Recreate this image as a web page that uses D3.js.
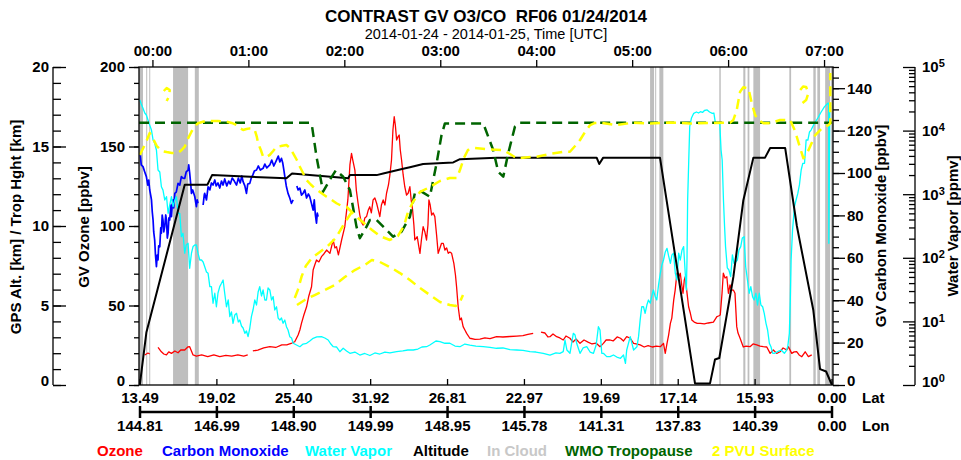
<!DOCTYPE html>
<html><head><meta charset="utf-8">
<script src="https://cdn.jsdelivr.net/npm/d3@7"></script>
<style>
body{margin:0;background:#fff}
svg{display:block;font-family:"Liberation Sans",Arial,Helvetica,sans-serif}
</style></head><body>
<svg id="c" width="961" height="460"></svg>
<script>
// ---- data (time = minutes after 2014-01-24 00:00 UTC) ----
const titleText = "CONTRAST GV O3/CO  RF06 01/24/2014";
const subtitleText = "2014-01-24 - 2014-01-25, Time [UTC]";
const latLabels = ["13.49","19.02","25.40","31.92","26.81","22.97","19.69","17.14","15.93","0.00"];
const lonLabels = ["144.81","146.99","148.90","149.99","148.95","145.78","141.31","137.83","140.39","0.00"];
const legendNames = ["Ozone","Carbon Monoxide","Water Vapor","Altitude","In Cloud","WMO Tropopause","2 PVU Surface"];
const legendColors = ["#ff0000","#0000ff","#00ffff","#000000","#c8c8c8","#006400","#ffff00"];
const ozoneTicks = [0,50,100,150,200];
const altTicks = [0,5,10,15,20];
const coTicks = [0,20,40,60,80,100,120,140];
const wvTicks = [1,10,100,1000,10000,100000];

const cloudBands = [[-8.4,-5.9],[-3.9,-3.4],[-2.0,-1.5],[12.9,22.3],[26.5,29.0],[311.2,313.7],[314.4,315.0],[317.0,319.5],[354.5,355.4],[369.5,370.8],[372.2,373.3],[375.8,380.0],[398.3,399.4],[413.3,414.8],[415.8,417.5],[420.7,423.8],[424.4,425.6]];

const ozone = [[-4.8,18.9],[-2.8,20.1],[-1.7,19.5],[0,null],
[3.5,23.7],[5.6,20.9],[7.1,19.5],[8.8,18.9],[10.2,20.8],[11.9,19.9],[14.0,21.4],[16.0,20.3],[17.7,22.0],[20.2,22.0],[22.1,23.9],[23.3,24.1],[25.4,18.9],[27.5,18.2],[30.8,18.9],[34.6,17.9],[38.4,18.9],[42.1,17.9],[45.9,18.6],[49.6,18.2],[53.4,18.9],[57.1,18.2],[59.6,18.9],[61,null],
[62.8,21.4],[65.9,22.0],[69.6,23.3],[73.4,24.1],[77.1,23.6],[80.9,25.2],[84.0,25.2],[87.2,26.4],[89.0,27.2],[91.1,31.4],[92.2,34.6],[93.2,38.8],[94.7,44.0],[96.4,49.2],[97.8,56.0],[99.5,61.8],[100.5,72.3],[101.5,75.5],[102.6,78.6],[104.1,77.4],[105.7,80.7],[107.2,82.4],[108.9,84.9],[111.0,82.8],[113.0,91.2],[114.1,86.2],[115.1,87.0],[116.3,81.8],[118.3,91.2],[120.3,99.6],[122.2,116.4],[123.5,138.4],[124.5,145.7],[125.3,141.5],[126.6,135.2],[127.5,122.6],[128.6,114.3],[129.7,106.9],[130.6,102.5],[131.8,100.6],[132.8,105.0],[133.9,105.9],[135.0,110.1],[135.9,112.1],[136.9,108.2],[138.0,116.4],[139.1,117.6],[140.2,114.3],[141.2,110.1],[142.2,105.9],[143.2,113.2],[144.3,116.4],[145.4,113.2],[146.4,120.6],[147.6,125.8],[148.5,132.1],[149.5,141.5],[150.4,160.4],[151.2,168.7],[151.9,163.5],[152.7,154.1],[153.5,156.0],[154.3,157.2],[155.0,147.8],[155.8,141.5],[156.8,132.1],[157.8,124.7],[158.9,119.5],[159.9,120.6],[161.0,124.7],[161.8,116.4],[162.7,110.1],[163.5,100.6],[164.1,91.2],[165.6,93.3],[166.4,88.1],[167.3,82.8],[168.2,91.2],[169.3,99.6],[170.4,96.2],[171.4,91.2],[172.3,100.6],[172.9,116.4],[173.7,113.2],[174.6,106.9],[175.6,108.2],[176.6,105.9],[177.7,94.3],[178.7,82.8],[179.8,86.2],[180.8,89.1],[181.9,89.1],[182.9,84.9],[184.0,86.2],[185.0,82.8],[186.0,83.6],[187.1,82.8],[188.5,76.5],[189.5,69.2],[190.2,61.8],[190.7,55.3],[191.2,49.2],[192.3,40.9],[193.2,42.1],[194.3,36.7],[195.4,34.6],[196.5,32.5],[198.5,29.4],[201.7,28.7],[204.8,28.9],[207.9,29.6],[211.1,29.2],[215.2,30.4],[219.2,30.2],[223.6,30.5],[227.8,30.8],[231.7,31.1],[234.8,31.8],[238.1,32.5],[240,null],
[243.0,33.3],[245.5,32.7],[247.3,30.2],[248.6,30.4],[250.5,32.1],[252.8,30.4],[254.8,29.6],[256.9,28.3],[258.6,30.8],[261.1,29.4],[263.0,27.0],[264.9,28.9],[267.4,26.2],[269.9,28.3],[272.4,27.0],[274.9,25.8],[277.4,26.4],[279.9,24.1],[282.0,26.2],[283.7,28.3],[286.2,28.3],[288.1,27.7],[290.6,30.2],[292.7,29.4],[294.6,27.7],[296.6,30.4],[298.8,29.4],[300.9,26.2],[302.5,25.8],[305.0,25.2],[307.5,23.9],[310.0,24.8],[312.6,23.9],[315.1,24.5],[317.6,24.1],[319.6,26.2],[320.7,19.9],[321.8,26.2],[322.8,31.4],[323.9,38.8],[324.8,42.1],[326.0,53.5],[326.9,59.7],[328.0,70.3],[328.8,67.3],[330.1,70.3],[331.0,62.9],[331.8,57.7],[332.6,66.0],[333.2,68.1],[334.1,59.7],[335.3,49.2],[336.4,45.1],[337.3,40.9],[338.8,39.6],[340.7,38.8],[342.6,38.8],[345.1,38.4],[347.6,39.0],[350.8,39.6],[353.0,43.0],[354.0,43.4],[355.1,44.0],[356.2,57.7],[357.0,70.3],[358.1,67.3],[359.2,68.1],[360.2,57.7],[361.2,62.9],[362.3,59.7],[363.3,59.7],[364.3,57.7],[365.4,36.7],[366.2,32.7],[367.5,29.4],[369.5,23.9],[371.2,24.5],[373.7,24.1],[375.6,25.8],[377.9,25.2],[380.0,24.5],[382.0,24.1],[384.2,23.9],[386.3,19.9],[388.3,22.0],[390.4,19.9],[392.5,20.9],[394.4,23.3],[396.7,22.0],[397.7,24.1],[399.8,19.9],[401.3,20.8],[403.0,20.9],[404.4,18.9],[406.1,17.8],[408.2,20.9],[410.2,17.8],[412.3,18.9]];

const carbonMonoxide = [[-7.6,108.5],[-7.0,103.8],[-5.9,103.0],[-4.8,100.5],[-3.8,98.3],[-2.9,94.3],[-2.3,96.7],[-1.7,92.0],[-1.1,89.6],[-0.6,87.3],[-0.1,81.6],[0.4,77.8],[0.8,72.2],[1.4,68.4],[1.9,61.3],[2.5,55.8],[3.0,61.3],[3.5,59.0],[3.9,65.6],[4.6,65.2],[5.2,74.1],[5.6,71.6],[6.1,80.2],[6.6,77.8],[7.1,72.2],[7.7,74.7],[8.3,80.2],[8.8,77.8],[9.3,69.3],[9.8,71.6],[10.3,78.8],[10.8,77.8],[11.5,84.9],[11.9,79.4],[12.4,84.9],[12.9,87.3],[13.3,83.5],[14.0,90.4],[14.9,91.0],[16.0,95.1],[17.1,94.3],[18.1,98.3],[19.1,97.6],[20.2,97.5],[21.1,100.5],[22.3,101.4],[22.7,103.8],[23.3,99.9],[24.0,94.3],[24.4,90.4],[25.2,92.0],[26.5,88.8],[27.5,84.1],[28.0,87.3],[28.5,85.7],[30,null],
[31.7,84.9],[32.4,89.6],[32.7,90.4],[33.8,87.3],[34.8,93.5],[35.9,92.0],[36.9,95.3],[37.9,94.3],[39.0,96.7],[39.9,93.9],[41.0,95.3],[42.1,92.9],[43.2,96.2],[44.2,94.3],[45.2,97.2],[46.5,93.9],[47.7,96.2],[48.7,94.8],[49.9,97.6],[51.2,96.2],[52.6,94.3],[53.7,97.6],[54.9,95.3],[55.9,98.6],[56.7,95.9],[57.8,93.9],[58.8,90.4],[59.6,94.8],[60.9,95.1],[61.8,97.6],[62.8,99.1],[63.7,100.9],[65.1,101.4],[66.2,103.3],[67.5,101.4],[69.2,102.2],[70.3,104.2],[71.5,102.4],[73.4,103.8],[74.6,106.1],[75.9,103.3],[77.6,106.1],[78.7,108.0],[79.7,105.2],[80.7,106.9],[81.5,104.7],[82.2,101.4],[82.8,98.3],[83.7,93.9],[84.8,90.4],[85.9,88.2],[86.9,85.7],[88.0,87.3],[89,null],
[90.3,93.9],[91.1,92.0],[92.2,92.9],[93.2,89.6],[94.2,90.4],[95.3,92.0],[96.4,88.2],[97.5,90.1],[98.4,88.8],[99.4,85.8],[100.5,82.5],[101.2,87.3],[101.9,80.2],[102.6,76.3],[103.1,81.1],[103.6,79.4]];

const waterVapor = [[-7.9,30300],[-7.0,26200],[-5.9,22400],[-4.8,18900],[-3.8,17600],[-2.8,14700],[-1.7,12200],[-0.6,10200],[0.4,7110],[1.4,6310],[2.5,4950],[3.5,2400],[4.6,2230],[5.6,1310],[6.6,1160],[7.7,811],[8.8,914],[9.8,501],[10.8,676],[11.9,914],[12.9,636],[14.0,811],[15.0,914],[16.0,501],[17.1,501],[18.1,215],[19.1,243],[20.2,118],[21.1,159],[22.3,169],[23.3,68.4],[24.4,118],[25.4,150],[26.5,159],[27.5,159],[28.5,118],[29.6,92.3],[30.7,92.3],[31.7,85.9],[32.7,72.4],[33.8,59.8],[34.8,57.0],[35.9,35.2],[36.9,35.2],[37.9,19.3],[39.0,27.7],[40.0,17.0],[41.0,28.0],[42.1,35.2],[43.2,39.7],[44.2,44.8],[45.2,27.7],[46.3,17.0],[47.4,21.7],[48.4,11.9],[49.4,14.1],[50.4,9.33],[51.5,12.6],[52.6,13.4],[53.7,9.79],[54.6,10.5],[55.7,8.47],[56.7,7.87],[57.8,6.50],[58.8,7.07],[59.8,5.75],[60.9,7.87],[61.9,11.9],[62.9,15.1],[64.0,21.7],[65.1,18.1],[66.1,29.0],[67.1,35.2],[68.2,25.1],[69.2,31.2],[70.3,21.7],[71.3,21.7],[72.3,33.5],[73.4,31.2],[74.5,21.7],[75.5,24.5],[76.5,15.1],[77.6,17.0],[78.6,11.3],[79.7,10.5],[80.7,11.3],[81.7,9.33],[82.8,10.5],[83.8,8.26],[84.8,7.32],[85.9,5.75],[87.0,5.48],[88.0,4.53],[90.1,4.25],[92.2,4.00],[94.2,4.41],[96.4,4.53],[98.4,4.92],[100.5,5.42],[102.8,5.69],[105.7,5.75],[107.8,5.48],[109.9,5.10],[111.6,4.41],[113.0,4.00],[115.1,3.96],[117.2,3.34],[119.3,3.78],[121.4,3.43],[123.5,3.15],[126.6,3.30],[129.7,2.96],[132.8,3.13],[136.0,2.91],[139.1,3.19],[142.2,3.07],[145.4,3.30],[148.5,3.19],[152.7,3.34],[156.6,3.43],[159.7,3.55],[163.1,3.55],[166.0,3.68],[168.5,3.96],[171.4,4.00],[173.5,4.25],[175.4,4.57],[177.3,4.92],[179.8,4.81],[182.9,4.53],[186.0,4.53],[189.2,4.10],[192.3,4.00],[195.4,4.41],[198.5,4.25],[202.3,4.10],[206.9,4.00],[211.1,3.89],[215.2,3.78],[219.2,3.82],[223.6,3.61],[227.8,3.55],[231.7,3.49],[236.1,3.34],[239.8,3.30],[244.4,3.15],[248.6,2.96],[252.3,3.19],[254.8,3.15],[256.9,3.34],[258.0,5.10],[259.2,3.55],[261.1,3.15],[263.2,6.50],[264.3,6.11],[265.3,4.53],[267.4,3.15],[269.3,3.82],[271.6,4.00],[273.7,3.30],[275.8,3.15],[277.5,4.25],[278.9,8.26],[279.9,7.32],[281.0,3.15],[282.0,3.15],[284.1,2.79],[286.2,2.79],[288.3,2.96],[290.4,2.75],[292.7,2.63],[294.6,2.96],[295.8,2.19],[296.6,3.55],[298.8,5.75],[300.9,3.55],[303.0,4.00],[304.0,5.75],[305.0,10.5],[306.0,17.0],[307.1,17.0],[308.1,13.4],[309.2,18.1],[310.2,21.7],[311.3,19.3],[312.3,25.1],[313.3,31.2],[314.4,24.5],[315.4,21.7],[316.5,37.4],[317.6,57.0],[318.6,77.1],[319.6,92.3],[320.7,123],[321.8,141],[322.8,107],[323.9,82.0],[324.9,111],[325.9,118],[327.0,57.0],[328.0,44.8],[329.1,118],[330.1,92.3],[331.2,133],[332.2,150],[333.2,57.0],[333.9,31.2],[334.3,92.3],[334.7,811],[335.4,3450],[336.0,11500],[337.1,15800],[338.5,18700],[340.2,19600],[341.5,18900],[342.7,19800],[344.0,19300],[345.2,20700],[346.9,21100],[348.4,19600],[350.1,18700],[351.1,18900],[352.1,13000],[353.2,13000],[354.2,13000],[354.8,12700],[355.6,4950],[356.3,3450],[357.1,811],[357.8,308],[358.4,150],[359.5,69.2],[360.5,64.3],[361.6,50.5],[362.7,111],[363.7,82.0],[364.7,85.9],[365.8,92.3],[366.8,133],[367.9,150],[368.9,205],[370.0,215],[371.0,72.4],[372.1,44.8],[373.2,27.7],[374.2,35.2],[375.3,24.5],[376.3,21.7],[377.4,27.7],[378.4,18.1],[379.5,27.7],[380.5,18.1],[381.6,17.0],[382.6,13.4],[383.7,9.33],[384.7,7.32],[385.8,4.53],[386.8,4.00],[387.9,3.15],[388.9,3.15],[391.0,3.34],[393.1,3.55],[395.2,3.15],[396.3,3.43],[397.3,4.00],[398.3,6.50],[398.9,21.7],[399.4,92.3],[400.3,274],[401.5,636],[402.5,811],[403.6,1030],[404.6,1400],[405.7,2400],[406.7,3060],[407.8,3060],[408.8,7110],[409.9,7110],[410.9,9510],[411.9,10200],[413.8,12700],[416.1,15800],[418.2,19600],[420.3,23800],[422.4,26900],[422.9,26900],[423.0,169],[423.6,23800],[424.4,25300]];

const altitude = [[-7.9,0],[-3.8,3.3],[20.2,12.6],[34.4,12.6],[37.3,13.2],[83.8,13.0],[87.3,13.3],[122.4,13.0],[123.5,13.2],[140.2,13.2],[144.3,13.3],[156.8,13.6],[161.0,13.7],[169.3,13.9],[188.1,14.0],[192.3,14.2],[215.2,14.3],[277.8,14.3],[279.4,13.9],[281.9,14.3],[317.4,14.3],[339.3,0.1],[348.7,0.1],[351.8,1.6],[354.5,1.7],[363.3,6.8],[369.5,11.6],[375.8,14.3],[383.1,14.3],[386.3,14.9],[395.7,14.9],[403.0,10.0],[413.3,4.7],[417.5,1.0],[421.3,0.85],[424.9,0]];

const tropopause = [[-8.4,16.5],[98.4,16.5],[99.7,16.35],[102.6,14.36],[106.7,12.16],[110.9,12.9],[114.7,13.5],[119.3,13.1],[123.5,12.26],[127.6,9.96],[129.7,9.23],[133.9,9.96],[136.0,10.38],[140.2,10.38],[150.5,9.33],[155.8,9.64],[161.0,10.58],[164.1,12.06],[168.3,12.16],[173.5,11.84],[177.7,13.94],[180.8,15.72],[182.9,16.45],[206.9,16.45],[213.1,14.78],[216.2,13.42],[219.4,13.1],[222.5,14.57],[226.7,16.25],[229.8,16.5],[425.0,16.5]];

const pvuSurface = [[-7.9,14.47],[-4.2,15.22],[-1.7,15.85],[0.2,15.53],[2.7,15.03],[5.8,14.72],[8.9,14.65],[12.1,14.59],[15.8,14.59],[18.3,14.78],[20.2,14.99],[22.1,15.47],[24.4,15.93],[26.5,16.29],[28.5,16.46],[32.1,16.57],[35.9,16.60],[40.9,16.60],[46.3,16.56],[49.6,16.48],[52.6,16.35],[54.6,16.16],[56.7,16.04],[58.8,16.10],[60.9,16.14],[62.8,16.13],[64.0,16.04],[65.3,15.60],[66.1,15.20],[67.8,14.78],[69.2,14.36],[71.3,14.34],[73.4,14.47],[75.5,14.72],[77.6,14.99],[80.3,15.03],[83.8,15.09],[85.9,14.91],[88.0,14.57],[90.3,14.15],[92.2,13.73],[94.2,13.33],[96.4,12.89],[99.0,12.61],[101.5,12.37],[104.7,12.14],[108.9,11.84],[111.6,11.67],[115.1,11.43],[117.8,11.29],[121.4,11.21],[124.7,10.88],[128.5,10.50],[132.9,10.13],[137.3,9.75],[142.2,9.37],[148.5,9.12],[153.5,9.37],[157.3,10.0],[159.8,10.88],[162.9,11.51],[167.3,12.14],[173.5,12.45],[179.8,12.83],[186.0,13.02],[190.4,13.02],[192.3,13.52],[194.8,14.28],[197.3,14.78],[201.7,14.91],[211.1,14.82],[219.2,14.78],[223.6,14.53],[227.8,14.26],[233.0,14.31],[240.3,14.36],[248.6,14.53],[256.9,14.67],[261.1,14.67],[264.3,15.03],[267.4,15.41],[270.5,15.91],[273.7,16.35],[276.8,16.48],[279.9,16.50],[290.3,16.35],[300.5,16.50],[311.2,16.45],[323.7,16.51],[336.2,16.45],[348.7,16.48],[361.3,16.50],[363.3,16.67],[365.4,17.30],[367.5,18.45],[369.5,18.72],[372.7,18.66],[374.8,17.72],[376.9,16.98],[378.9,16.67],[382.1,16.46],[386.3,16.46],[392.5,16.67],[398.8,16.67],[401.9,15.97],[405.1,14.89],[407.1,14.26],[410.3,14.78],[414.5,15.72],[418.6,16.14],[422.8,16.35],[423.9,16.45],[423.9,19.62],[0,null],
[89.0,5.47],[90.9,5.97],[93.4,6.86],[95.9,7.48],[99.7,7.99],[104.7,8.36],[109.7,8.74],[114.7,9.25],[119.1,10.0],[122.2,10.5],[124.7,10.88],[0,null],
[90.4,5.03],[95.3,5.35],[101.5,5.66],[107.8,5.97],[114.1,6.29],[120.3,6.79],[126.6,7.23],[132.8,7.55],[137.2,7.86],[142.2,7.74],[148.5,7.42],[154.8,7.04],[161.0,6.60],[167.3,6.10],[173.5,5.66],[179.8,5.22],[186.0,5.03],[189.8,4.97],[192.3,5.22],[194.2,5.66],[0,null],
[7.1,18.49],[8.9,18.68],[10.8,18.55],[10.5,18.18],[8.9,17.86],[0,null],
[405.1,18.55],[406.9,18.77],[408.8,18.74],[410.2,18.35],[408.8,17.92],[406.3,17.72]];

// ---- layout ----
const L = 139, R = 833, T = 67, B = 385;
const base = Date.UTC(2014,0,24,0,0,0);
const toDate = m => new Date(base + m*60000);
const x = d3.scaleUtc().domain([toDate(-8.4), toDate(425.6)]).range([L, R]);
const yO = d3.scaleLinear().domain([0,200]).range([B,T]);
const yCO = d3.scaleLinear().domain([0,150]).range([B,T]);
const yKm = d3.scaleLinear().domain([0,20]).range([B,T]);
const yWV = d3.scaleLog().domain([1,1e5]).range([B,T]);
const pos = d3.scalePoint().domain(d3.range(latLabels.length)).range([140, 832]);

const svg = d3.select("#c");
const F = "bold";

svg.append("defs").append("clipPath").attr("id","clip")
  .append("rect").attr("x",L).attr("y",T).attr("width",R-L).attr("height",B-T);

// titles
svg.append("text").attr("x",486).attr("y",21.5).attr("text-anchor","middle")
  .attr("font-size",17).attr("font-weight",F).style("white-space","pre").text(titleText);
svg.append("text").attr("x",486).attr("y",39).attr("text-anchor","middle")
  .attr("font-size",14.5).text(subtitleText);

const plot = svg.append("g").attr("clip-path","url(#clip)");

// clouds
plot.selectAll("rect.cloud").data(cloudBands).join("rect").attr("class","cloud")
  .attr("x",d=>x(toDate(d[0]))).attr("width",d=>Math.max(1,x(toDate(d[1]))-x(toDate(d[0]))))
  .attr("y",T).attr("height",B-T).attr("fill","#bebebe");

function drawLine(data, yScale, color, width, dash){
  const line = d3.line().defined(d=>d[1]!==null)
    .x(d=>x(toDate(d[0]))).y(d=>yScale(d[1]));
  plot.append("path").datum(data).attr("d",line).attr("fill","none")
    .attr("stroke",color).attr("stroke-width",width)
    .attr("stroke-linejoin","round")
    .attr("stroke-dasharray",dash||null);
}
drawLine(ozone, yO, "#ff0000", 1.3);
drawLine(carbonMonoxide, yCO, "#0000ff", 1.7);
drawLine(waterVapor, yWV, "#00ffff", 1.3);
drawLine(altitude, yKm, "#000000", 2);
drawLine(tropopause, yKm, "#006400", 2.5, "10,6");
drawLine(pvuSurface, yKm, "#ffff00", 2.5, "10,6");

// frame
svg.append("rect").attr("x",L).attr("y",T).attr("width",R-L).attr("height",B-T)
  .attr("fill","none").attr("stroke","#000").attr("stroke-width",1.3);

function styleAxis(g){
  g.select(".domain").remove();
  g.selectAll("line").attr("stroke","#000").attr("stroke-width",1.3);
  g.selectAll("text").attr("font-size",15).attr("font-weight",F).attr("fill","#000")
   .attr("font-family",null);
  // lift the bottom label a little, as in the reference
  g.selectAll(".tick").filter(d=>d===0||d===1).select("text").attr("dy","0.05em");
}

// top time axis
svg.append("g").attr("transform",`translate(0,${T})`)
  .call(d3.axisTop(x).ticks(d3.utcHour.every(1)).tickFormat(d3.utcFormat("%H:%M")).tickSize(7).tickPadding(4))
  .call(styleAxis);

// ozone axis
svg.append("g").attr("transform",`translate(${L},0)`)
  .call(d3.axisLeft(yO).tickValues(d3.range(0,201,10)).tickSize(5).tickFormat(""))
  .call(styleAxis);
svg.append("g").attr("transform",`translate(${L},0)`)
  .call(d3.axisLeft(yO).tickValues(ozoneTicks).tickSize(10).tickPadding(4))
  .call(styleAxis);

// GPS axis
const gx = 53;
svg.append("line").attr("x1",gx).attr("x2",gx).attr("y1",T).attr("y2",B).attr("stroke","#000").attr("stroke-width",1.3);
svg.append("g").attr("transform",`translate(${gx},0)`)
  .call(d3.axisLeft(yKm).tickValues(d3.range(0,21,1)).tickSizeInner(-8).tickSizeOuter(0).tickFormat(""))
  .call(styleAxis);
svg.append("g").attr("transform",`translate(${gx},0)`)
  .call(d3.axisLeft(yKm).tickValues(altTicks).tickSizeInner(-13).tickSizeOuter(0).tickPadding(4))
  .call(styleAxis);

// CO axis
svg.append("g").attr("transform",`translate(${R},0)`)
  .call(d3.axisRight(yCO).tickValues(d3.range(0,151,5)).tickSize(6).tickFormat(""))
  .call(styleAxis);
svg.append("g").attr("transform",`translate(${R},0)`)
  .call(d3.axisRight(yCO).tickValues(coTicks).tickSize(12).tickPadding(2))
  .call(styleAxis);

// water vapor axis
const wx = 915;
svg.append("line").attr("x1",wx).attr("x2",wx).attr("y1",T).attr("y2",B).attr("stroke","#000").attr("stroke-width",1.3);
const minorWV = [];
for (let k=0;k<5;k++) for (let j=2;j<10;j++) minorWV.push(j*Math.pow(10,k));
svg.append("g").attr("transform",`translate(${wx},0)`)
  .call(d3.axisRight(yWV).tickValues(minorWV).tickSizeInner(-6).tickSizeOuter(0).tickFormat(""))
  .call(styleAxis);
const wvAxis = svg.append("g").attr("transform",`translate(${wx},0)`)
  .call(d3.axisRight(yWV).tickValues(wvTicks).tickSizeInner(-12).tickSizeOuter(0).tickPadding(7).tickFormat(""))
  .call(styleAxis);
wvAxis.selectAll(".tick").each(function(d){
  const t = d3.select(this).append("text").attr("x",7).attr("dy", d===1 ? "0.1em" : "0.32em")
    .attr("font-size",15).attr("font-weight",F).attr("fill","#000");
  t.append("tspan").text("10");
  t.append("tspan").attr("dy","-0.45em").attr("font-size",11).text(String(Math.round(Math.log10(d))));
});

// lat ticks on plot bottom
svg.append("g").selectAll("line").data(latLabels).join("line")
  .attr("x1",(d,i)=>pos(i)).attr("x2",(d,i)=>pos(i)).attr("y1",B).attr("y2",B-6)
  .attr("stroke","#000").attr("stroke-width",1.3);
svg.append("g").selectAll("text").data(latLabels).join("text")
  .attr("x",(d,i)=>pos(i)).attr("y",402.5).attr("text-anchor","middle")
  .attr("font-size",15).attr("font-weight",F).text(d=>d);
svg.append("text").attr("x",862).attr("y",402.5).attr("font-size",15).attr("font-weight",F).text("Lat");

// lon axis
svg.append("line").attr("x1",140).attr("x2",832).attr("y1",412).attr("y2",412).attr("stroke","#000").attr("stroke-width",2.5);
svg.append("g").selectAll("line").data(lonLabels).join("line")
  .attr("x1",(d,i)=>pos(i)).attr("x2",(d,i)=>pos(i)).attr("y1",406).attr("y2",418)
  .attr("stroke","#000").attr("stroke-width",2.5);
svg.append("g").selectAll("text").data(lonLabels).join("text")
  .attr("x",(d,i)=>pos(i)).attr("y",431).attr("text-anchor","middle")
  .attr("font-size",15).attr("font-weight",F).text(d=>d);
svg.append("text").attr("x",862).attr("y",431).attr("font-size",15).attr("font-weight",F).text("Lon");

// axis titles
function vtitle(tx, ty, txt){
  svg.append("text").attr("transform",`translate(${tx},${ty}) rotate(-90)`)
    .attr("text-anchor","middle").attr("font-size",15).attr("font-weight",F).text(txt);
}
vtitle(21, 227, "GPS Alt. [km] / Trop Hght [km]");
vtitle(89, 227, "GV Ozone [ppbv]");
vtitle(886, 226, "GV Carbon Monoxide [ppbv]");
vtitle(958, 226, "Water Vapor [ppmv]");

// legend
const legendX = [97,162,305,413,487,565,712];
svg.append("g").selectAll("text").data(legendNames).join("text")
  .attr("x",(d,i)=>legendX[i]).attr("y",456)
  .attr("font-size",15).attr("font-weight",F)
  .attr("fill",(d,i)=>legendColors[i]).text(d=>d);
</script>
</body></html>
